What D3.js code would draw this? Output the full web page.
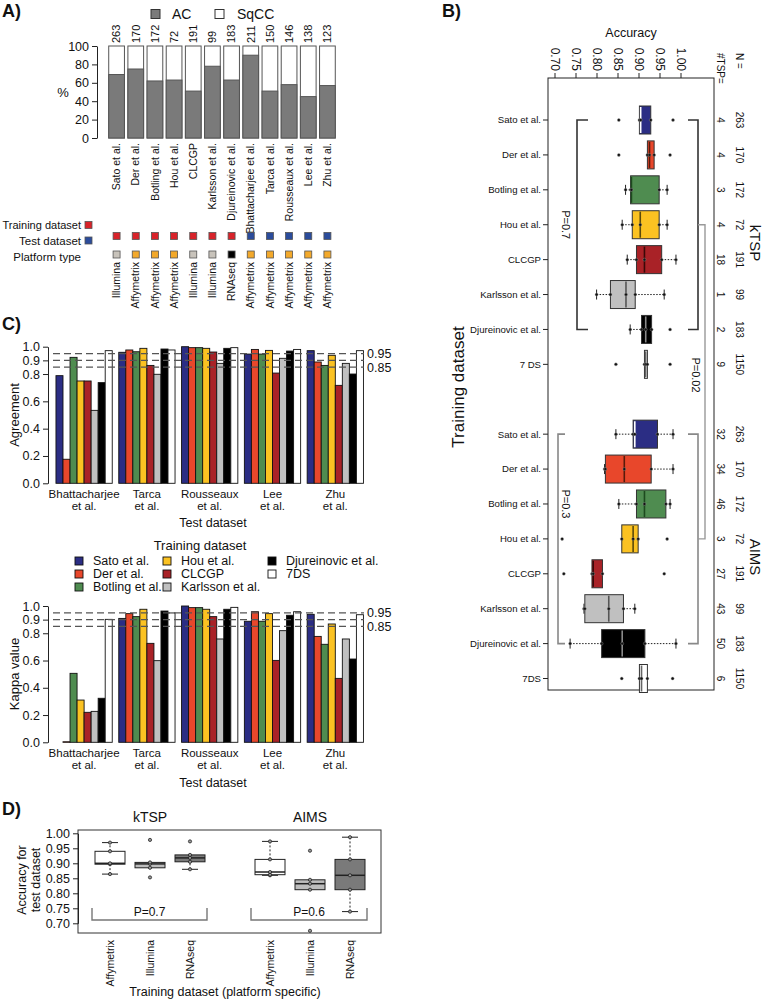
<!DOCTYPE html>
<html><head><meta charset="utf-8">
<script src="https://cdn.jsdelivr.net/npm/d3@7"></script>
<style>body{margin:0;background:#fff} text{font-family:"Liberation Sans",Arial,Helvetica,sans-serif;fill:#111}</style>
</head><body><svg id="c" width="763" height="1000"></svg>
<script>
// ---------------- DATA ----------------
// Panel A
const datasetsA = ["Sato et al.","Der et al.","Botling et al.","Hou et al.","CLCGP","Karlsson et al.","Djureinovic et al.","Bhattacharjee et al.","Tarca et al.","Rousseaux et al.","Lee et al.","Zhu et al."];
const sampleN = [263,170,172,72,191,99,183,211,150,146,138,123];
const acPercent = [69,75,62,63,51,78,63,90,51,58,45,57];
const datasetRole = ["Training","Training","Training","Training","Training","Training","Training","Test","Test","Test","Test","Test"];
const platformType = ["Illumina","Affymetrix","Affymetrix","Affymetrix","Illumina","Illumina","RNAseq","Affymetrix","Affymetrix","Affymetrix","Affymetrix","Affymetrix"];
const pctTicks = [0,20,40,60,80,100];

// Panel B
const trainingSetsK = ["Sato et al.","Der et al.","Botling et al.","Hou et al.","CLCGP","Karlsson et al.","Djureinovic et al.","7 DS"];
const trainingSetsA = ["Sato et al.","Der et al.","Botling et al.","Hou et al.","CLCGP","Karlsson et al.","Djureinovic et al.","7DS"];
const ktspAccuracy = [
  [0.852,0.901,0.904,0.928,0.981],
  [0.852,0.920,0.925,0.936,0.974],
  [0.868,0.880,0.882,0.948,0.967],
  [0.860,0.884,0.903,0.948,0.967],
  [0.872,0.894,0.913,0.954,0.988],
  [0.799,0.832,0.869,0.891,0.960],
  [0.879,0.906,0.916,0.930,0.974],
  [0.845,0.913,0.916,0.920,0.974]];
const aimsAccuracy = [
  [0.845,0.886,0.890,0.944,0.981],
  [0.818,0.820,0.865,0.929,0.981],
  [0.852,0.894,0.913,0.964,0.974],
  [0.717,0.859,0.886,0.898,0.967],
  [0.721,0.788,0.791,0.813,0.960],
  [0.769,0.771,0.828,0.863,0.890],
  [0.736,0.811,0.860,0.914,0.988],
  [0.859,0.901,0.906,0.920,0.980]];
const ktspNumTSP = [4,4,3,4,18,1,2,9];
const aimsNumRules = [32,34,46,3,27,43,50,6];
const trainN = [263,170,172,72,191,99,183,1150];
const accTicks = [0.70,0.75,0.80,0.85,0.90,0.95,1.00];

// Panel C
const trainingLegend = ["Sato et al.","Der et al.","Botling et al.","Hou et al.","CLCGP","Karlsson et al.","Djureinovic et al.","7DS"];
const testSets = ["Bhattacharjee et al.","Tarca et al.","Rousseaux et al.","Lee et al.","Zhu et al."];
// rows: test dataset, columns: training dataset (legend order)
const agreement = [
  [0.788,0.176,0.922,0.749,0.749,0.534,0.737,0.971],
  [0.959,0.976,0.963,0.988,0.863,0.798,0.983,0.976],
  [1.000,0.993,0.993,0.988,0.961,0.878,0.988,0.993],
  [0.946,0.980,0.946,0.973,0.807,0.915,0.968,0.980],
  [0.971,0.888,0.863,0.937,0.717,0.878,0.800,0.971]];
const kappa = [
  [0.000,0.004,0.506,0.310,0.220,0.227,0.323,0.902],
  [0.909,0.944,0.922,0.976,0.726,0.599,0.963,0.949],
  [1.000,0.988,0.988,0.976,0.922,0.758,0.976,0.990],
  [0.888,0.958,0.888,0.944,0.601,0.819,0.932,0.958],
  [0.939,0.777,0.719,0.868,0.469,0.758,0.611,0.936]];
const cTicks = [0,0.2,0.4,0.6,0.8,0.9,1.0];
const refLines = [0.95,0.90,0.85];

// Panel D
const ktspAffymetrix = [0.864,0.897,0.900,0.940,0.969];
const ktspIllumina = [0.853,0.885,0.898,0.903,0.978];
const ktspRNAseq = [0.880,0.905,0.918,0.928,0.973];
const aimsAffymetrix = [0.860,0.862,0.871,0.913,0.973];
const aimsIllumina = [0.675,0.812,0.832,0.845,0.942];
const aimsRNAseq = [0.739,0.812,0.860,0.913,0.987];
const dTicks = [0.70,0.75,0.80,0.85,0.90,0.95,1.00];

// ---------------- STYLE ----------------
const trainColors = ["#2b2d84","#e8472b","#4f8c50","#fbc222","#a92227","#c0c0c0","#000000","#ffffff"];
const medianColors = ["#ffffff","#5a1a0a","#1d4a1e","#5b4a0a","#3a0808","#555555","#8a8a8a","#666666"];
const platformColor = {Illumina:"#c8c3bb", Affymetrix:"#f3a92b", RNAseq:"#000000"};
const roleColor = {Training:"#d8232a", Test:"#2b4c9b"};
const platformFillD = {Affymetrix:"#ffffff", Illumina:"#bdbdbd", RNAseq:"#7a7a7a"};

const svg = d3.select("#c");

function boxStats(v){
  const s = v.slice().sort(d3.ascending), n = s.length;
  const n4 = Math.floor((n+3)/2)/2;
  const d = [1,n4,(n+1)/2,n+1-n4,n].map(x=>0.5*(s[Math.floor(x)-1]+s[Math.ceil(x)-1]));
  const iqr = d[3]-d[1], lo = d[1]-1.5*iqr, hi = d[3]+1.5*iqr;
  const inside = s.filter(x=>x>=lo-1e-9 && x<=hi+1e-9);
  return {q1:d[1], med:d[2], q3:d[3], wlo:d3.min(inside), whi:d3.max(inside), out:s.filter(x=>x<lo-1e-9||x>hi+1e-9), all:s};
}
function txt(g,x,y,s,opt={}){
  const t = g.append("text").attr("x",x).attr("y",y).text(s)
    .attr("font-size",opt.size||12).attr("text-anchor",opt.anchor||"start");
  if(opt.rot!==undefined) t.attr("transform",`rotate(${opt.rot},${x},${y})`);
  if(opt.dy) t.attr("dy",opt.dy);
  if(opt.weight) t.attr("font-weight",opt.weight);
  if(opt.fill) t.style("fill",opt.fill);
  return t;
}

// ================= PANEL A =================
(function(){
  const g = svg.append("g");
  txt(g,2,17,"A)",{size:18,weight:"bold"});
  g.append("rect").attr("x",151).attr("y",9.5).attr("width",9).attr("height",9).attr("fill","#7a7a7a").attr("stroke","#333");
  txt(g,172,19,"AC",{size:14});
  g.append("rect").attr("x",215).attr("y",9.5).attr("width",9).attr("height",9).attr("fill","#fff").attr("stroke","#333");
  txt(g,237,19,"SqCC",{size:14});

  const x = d3.scaleBand().domain(datasetsA).range([107,337]).paddingInner(0.18).paddingOuter(0.09);
  const y = d3.scaleLinear().domain([0,100]).range([138,46]);
  const ax = g.append("g").attr("transform","translate(97,0)").call(d3.axisLeft(y).tickValues(pctTicks).tickSize(5).tickSizeOuter(0));
  ax.selectAll("text").attr("font-size",12.5).attr("font-family","Liberation Sans, Arial").style("fill","#111");
  ax.selectAll("line,path").attr("stroke","#222");
  txt(g,63,97,"%",{size:13,anchor:"middle"});

  g.selectAll(".sq").data(datasetsA).join("rect")
    .attr("x",d=>x(d)).attr("width",x.bandwidth()).attr("y",y(100)).attr("height",y(0)-y(100))
    .attr("fill","#fff").attr("stroke","#555").attr("stroke-width",1);
  g.selectAll(".ac").data(acPercent).join("rect")
    .attr("x",(d,i)=>x(datasetsA[i])).attr("width",x.bandwidth()).attr("y",d=>y(d)).attr("height",d=>y(0)-y(d))
    .attr("fill","#7a7a7a").attr("stroke","#555").attr("stroke-width",1);
  sampleN.forEach((n,i)=>{
    const cx = x(datasetsA[i])+x.bandwidth()/2;
    txt(g,cx,43,n,{size:11,rot:-90,dy:"0.35em"});
    txt(g,cx,143,datasetsA[i],{size:10.5,rot:-90,anchor:"end",dy:"0.35em"});
    g.append("rect").attr("x",cx-3.5).attr("y",232.5).attr("width",7).attr("height",7)
      .attr("fill",roleColor[datasetRole[i]]).attr("stroke","#555").attr("stroke-width",0.8);
    g.append("rect").attr("x",cx-3.5).attr("y",251).attr("width",7).attr("height",7)
      .attr("fill",platformColor[platformType[i]]).attr("stroke","#555").attr("stroke-width",0.8);
    txt(g,cx,262,platformType[i],{size:10.5,rot:-90,anchor:"end",dy:"0.35em"});
  });
  txt(g,81,229,"Training dataset",{size:11,anchor:"end"});
  g.append("rect").attr("x",85).attr("y",221.5).attr("width",7).attr("height",7).attr("fill",roleColor.Training).attr("stroke","#555").attr("stroke-width",0.8);
  txt(g,81,245,"Test dataset",{size:11.5,anchor:"end"});
  g.append("rect").attr("x",85).attr("y",237).attr("width",7).attr("height",7).attr("fill",roleColor.Test).attr("stroke","#555").attr("stroke-width",0.8);
  txt(g,81,261,"Platform type",{size:11.5,anchor:"end"});
})();

// ================= PANEL B =================
(function(){
  const g = svg.append("g");
  txt(g,442,17,"B)",{size:18,weight:"bold"});
  const x = d3.scaleLinear().domain([0.70,1.00]).range([555,681]);
  const row = d3.scaleLinear().domain([0,16]).range([120,678.5]);
  const L=548,R=714,T=78,B=690;
  g.append("rect").attr("x",L).attr("y",T).attr("width",R-L).attr("height",B-T).attr("fill","none").attr("stroke","#222");
  txt(g,(L+R)/2,37,"Accuracy",{size:12.5,anchor:"middle"});
  accTicks.forEach(v=>{
    g.append("line").attr("x1",x(v)).attr("x2",x(v)).attr("y1",T).attr("y2",T-5).attr("stroke","#222");
    txt(g,x(v),71,d3.format(".2f")(v),{size:12,rot:90,anchor:"end",dy:"0.35em"});
  });
  txt(g,720,53,"#TSP=",{size:10,rot:90,dy:"0.35em"});
  txt(g,739,53,"N =",{size:10,rot:90,dy:"0.35em"});
  txt(g,464,387,"Training dataset",{size:17,rot:-90,anchor:"middle"});
  txt(g,750,243,"kTSP",{size:15,rot:90,anchor:"middle"});
  txt(g,750,557,"AIMS",{size:15,rot:90,anchor:"middle"});

  const bh = 28;
  function drawRow(vals,i,label,ci,num,n){
    const cy = row(i), s = boxStats(vals);
    g.append("line").attr("x1",L-5).attr("x2",L).attr("y1",cy).attr("y2",cy).attr("stroke","#222");
    txt(g,L-7,cy,label,{size:9.6,anchor:"end",dy:"0.35em"});
    txt(g,720,cy,num,{size:10,rot:90,anchor:"middle",dy:"0.35em"});
    txt(g,739,cy,n,{size:10,rot:90,anchor:"middle",dy:"0.35em"});
    [[s.wlo,s.q1],[s.q3,s.whi]].forEach(([a,b])=>{
      if(Math.abs(a-b)>1e-6){
        g.append("line").attr("x1",x(a)).attr("x2",x(b)).attr("y1",cy).attr("y2",cy).attr("stroke","#222").attr("stroke-dasharray","1.5,1.5");
      }
    });
    [s.wlo,s.whi].forEach(v=>{
      if(Math.abs(v-s.q1)>1e-6 && Math.abs(v-s.q3)>1e-6)
        g.append("line").attr("x1",x(v)).attr("x2",x(v)).attr("y1",cy-5).attr("y2",cy+5).attr("stroke","#222");
    });
    g.append("rect").attr("x",x(s.q1)).attr("width",x(s.q3)-x(s.q1)).attr("y",cy-bh/2).attr("height",bh)
      .attr("fill",trainColors[ci]).attr("stroke","#333").attr("stroke-width",1);
    g.append("line").attr("x1",x(s.med)).attr("x2",x(s.med)).attr("y1",cy-bh/2+1).attr("y2",cy+bh/2-1)
      .attr("stroke",medianColors[ci]).attr("stroke-width",1.6);
    s.all.forEach(v=>{
      g.append("circle").attr("cx",x(v)).attr("cy",cy).attr("r",1.5).attr("fill","#111").attr("stroke","#999").attr("stroke-width",0.4);
    });
  }
  trainingSetsK.forEach((lab,i)=>drawRow(ktspAccuracy[i],i,lab,i,ktspNumTSP[i],trainN[i]));
  trainingSetsA.forEach((lab,i)=>drawRow(aimsAccuracy[i],i+9,lab,i,aimsNumRules[i],trainN[i]));

  function bracket(xv,xt,i0,i1,col){
    g.append("path").attr("d",`M${xt},${row(i0)}H${xv}V${row(i1)}H${xt}`).attr("fill","none").attr("stroke",col).attr("stroke-width",1.6);
  }
  bracket(577,588,0,6,"#333");
  bracket(698,688,0,6,"#333");
  bracket(558,565,9,15,"#888");
  bracket(698,688,9,15,"#888");
  g.append("path").attr("d",`M698,${row(3)}H705V${row(12)}H698`).attr("fill","none").attr("stroke","#999").attr("stroke-width",1.4);
  txt(g,566,row(3),"P=0.7",{size:11,rot:90,anchor:"middle",dy:"0.35em"});
  txt(g,566,row(11),"P=0.3",{size:11,rot:90,anchor:"middle",dy:"0.35em"});
  txt(g,696,375,"P=0.02",{size:11,rot:90,anchor:"middle",dy:"0.35em"});
})();

// ================= PANEL C =================
(function(){
  const g = svg.append("g");
  txt(g,2,330,"C)",{size:18,weight:"bold"});
  const gx = d3.scaleBand().domain(testSets).range([52.7,366.7]).paddingInner(0.104).paddingOuter(0.052);
  const bx = d3.scaleBand().domain(d3.range(8)).range([0,gx.bandwidth()]).padding(0);

  function barPanel(values,y,ylab,ylabY,labY){
    const ax = g.append("g").attr("transform","translate(48,0)").call(d3.axisLeft(y).tickValues(cTicks).tickFormat(d3.format(".1f")).tickSize(5).tickSizeOuter(0));
    ax.selectAll("text").attr("font-size",12.5).attr("font-family","Liberation Sans, Arial").style("fill","#111");
    ax.selectAll("line,path").attr("stroke","#222");
    txt(g,14,ylabY,ylab,{size:13,rot:-90,anchor:"middle",dy:"0.35em"});
    testSets.forEach((t,ti)=>{
      values[ti].forEach((v,k)=>{
        g.append("rect").attr("x",gx(t)+bx(k)).attr("width",bx.bandwidth()).attr("y",y(v)).attr("height",Math.max(0,y(0)-y(v)))
          .attr("fill",trainColors[k]).attr("stroke","#111").attr("stroke-width",0.9);
      });
      const cx = gx(t)+gx.bandwidth()/2;
      const parts = t.split(" et al.");
      txt(g,cx,labY,parts[0],{size:11.5,anchor:"middle"});
      txt(g,cx,labY+12,"et al.",{size:11.5,anchor:"middle"});
    });
    refLines.forEach(v=>{
      g.append("line").attr("x1",53).attr("x2",364).attr("y1",y(v)).attr("y2",y(v)).attr("stroke","#555").attr("stroke-width",1.2).attr("stroke-dasharray","7,4");
    });
    txt(g,367,y(0.95),"0.95",{size:12.5,dy:"0.35em"});
    txt(g,367,y(0.85),"0.85",{size:12.5,dy:"0.35em"});
  }
  const y1 = d3.scaleLinear().domain([0,1]).range([483.3,346.7]);
  const y2 = d3.scaleLinear().domain([0,1]).range([742.3,606]);
  barPanel(agreement,y1,"Agreement",415,498);
  txt(g,213,527,"Test dataset",{size:12.5,anchor:"middle"});
  barPanel(kappa,y2,"Kappa value",674,757);
  txt(g,213,787,"Test dataset",{size:12.5,anchor:"middle"});

  txt(g,200,550,"Training dataset",{size:13,anchor:"middle"});
  const colX = [79,167,272], rowY = [561,574,587];
  trainingLegend.forEach((name,k)=>{
    const c = Math.floor(k/3), r = k%3;
    g.append("rect").attr("x",colX[c]-4).attr("y",rowY[r]-4).attr("width",8).attr("height",8).attr("fill",trainColors[k]).attr("stroke","#111").attr("stroke-width",0.9);
    txt(g,colX[c]+14,rowY[r],name,{size:12.5,dy:"0.35em"});
  });
})();

// ================= PANEL D =================
(function(){
  const g = svg.append("g");
  txt(g,2,815,"D)",{size:18,weight:"bold"});
  const y = d3.scaleLinear().domain([0.70,1.00]).range([923.3,833.3]);
  const L=78,R=381,T=830,B=933;
  g.append("rect").attr("x",L).attr("y",T).attr("width",R-L).attr("height",B-T).attr("fill","none").attr("stroke","#333");
  const ax = g.append("g").attr("transform",`translate(${L},0)`).call(d3.axisLeft(y).tickValues(dTicks).tickFormat(d3.format(".2f")).tickSize(5).tickSizeOuter(0));
  ax.selectAll("text").attr("font-size",12.5).attr("font-family","Liberation Sans, Arial").style("fill","#111");
  ax.selectAll("line,path").attr("stroke","#222");
  txt(g,22,880,"Accuracy for",{size:12.5,rot:-90,anchor:"middle",dy:"0.35em"});
  txt(g,36,880,"test dataset",{size:12.5,rot:-90,anchor:"middle",dy:"0.35em"});
  txt(g,150,822,"kTSP",{size:14,anchor:"middle"});
  txt(g,310,822,"AIMS",{size:14,anchor:"middle"});
  const x = d3.scalePoint().domain(d3.range(7)).range([110,350]);
  const series = [
    {slot:0,p:"Affymetrix",v:ktspAffymetrix},{slot:1,p:"Illumina",v:ktspIllumina},{slot:2,p:"RNAseq",v:ktspRNAseq},
    {slot:4,p:"Affymetrix",v:aimsAffymetrix},{slot:5,p:"Illumina",v:aimsIllumina},{slot:6,p:"RNAseq",v:aimsRNAseq}];
  const bw = 30;
  series.forEach(d=>{
    const cx = x(d.slot), s = boxStats(d.v);
    [[s.wlo,s.q1],[s.q3,s.whi]].forEach(([a,b])=>{
      if(Math.abs(a-b)>1e-6) g.append("line").attr("x1",cx).attr("x2",cx).attr("y1",y(a)).attr("y2",y(b)).attr("stroke","#222").attr("stroke-dasharray","2,2");
    });
    [s.wlo,s.whi].forEach(v=>{
      if(Math.abs(v-s.q1)>1e-6 && Math.abs(v-s.q3)>1e-6)
        g.append("line").attr("x1",cx-8).attr("x2",cx+8).attr("y1",y(v)).attr("y2",y(v)).attr("stroke","#222");
    });
    g.append("rect").attr("x",cx-bw/2).attr("width",bw).attr("y",y(s.q3)).attr("height",y(s.q1)-y(s.q3))
      .attr("fill",platformFillD[d.p]).attr("stroke","#222");
    g.append("line").attr("x1",cx-bw/2).attr("x2",cx+bw/2).attr("y1",y(s.med)).attr("y2",y(s.med)).attr("stroke","#222").attr("stroke-width",1.5);
    s.all.forEach(v=>g.append("circle").attr("cx",cx).attr("cy",y(v)).attr("r",1.6).attr("fill","#999").attr("stroke","#111").attr("stroke-width",0.7));
    txt(g,cx,940,d.p,{size:10.5,rot:-90,anchor:"end",dy:"0.35em"});
  });
  function br(x0,x1,label){
    g.append("path").attr("d",`M${x0},908V920H${x1}V908`).attr("fill","none").attr("stroke","#777").attr("stroke-width",1.4);
    txt(g,(x0+x1)/2,916,label,{size:12,anchor:"middle"});
  }
  br(92,207,"P=0.7");
  br(251,367,"P=0.6");
  txt(g,225,996,"Training dataset (platform specific)",{size:12.5,anchor:"middle"});
})();
</script></body></html>
